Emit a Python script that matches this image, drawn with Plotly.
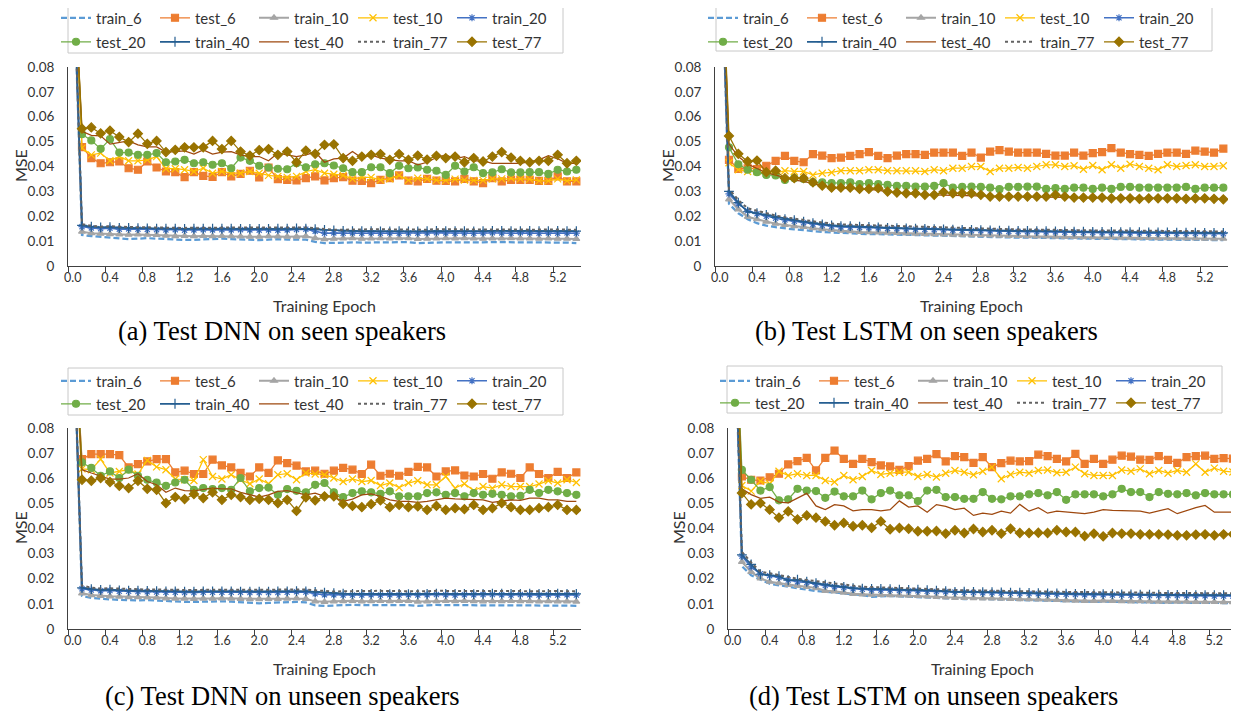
import plotly.graph_objects as go

W, H = 1239, 713      # browser window
BODY = 8              # default page margin around the plot div
FW, FH = W - BODY, H - BODY

epochs = [0.0, 0.1, 0.2, 0.3, 0.4, 0.5, 0.6, 0.7, 0.8, 0.9,
          1.0, 1.1, 1.2, 1.3, 1.4, 1.5, 1.6, 1.7, 1.8, 1.9,
          2.0, 2.1, 2.2, 2.3, 2.4, 2.5, 2.6, 2.7, 2.8, 2.9,
          3.0, 3.1, 3.2, 3.3, 3.4, 3.5, 3.6, 3.7, 3.8, 3.9,
          4.0, 4.1, 4.2, 4.3, 4.4, 4.5, 4.6, 4.7, 4.8, 4.9,
          5.0, 5.1, 5.2, 5.3, 5.4]
tick_vals = [0.0, 0.4, 0.8, 1.2, 1.6, 2.0, 2.4, 2.8, 3.2, 3.6, 4.0, 4.4, 4.8, 5.2]
tick_text = ["0.0", "0.4", "0.8", "1.2", "1.6", "2.0", "2.4", "2.8", "3.2", "3.6",
             "4.0", "4.4", "4.8", "5.2"]
series_names = ["train_6", "test_6", "train_10", "test_10", "train_20",
                "test_20", "train_40", "test_40", "train_77", "test_77"]

# ---------------- (a) DNN, seen speakers ----------------
a_train_6 = [0.13,
 0.0125, 0.0120, 0.0117, 0.0113, 0.0110, 0.0108, 0.0110, 0.0112, 0.0110, 0.0108,
 0.0107, 0.0105, 0.0105, 0.0107, 0.0108, 0.0110, 0.0108, 0.0106, 0.0105, 0.0104,
 0.0106, 0.0108, 0.0106, 0.0105, 0.0106, 0.0097, 0.0092, 0.0093, 0.0095, 0.0095,
 0.0094, 0.0094, 0.0095, 0.0096, 0.0097, 0.0096, 0.0092, 0.0094, 0.0096, 0.0095,
 0.0095, 0.0094, 0.0094, 0.0095, 0.0096, 0.0096, 0.0095, 0.0095, 0.0096, 0.0095,
 0.0094, 0.0094, 0.0094, 0.0092]
a_test_6 = [0.13,
 0.0478, 0.0434, 0.0413, 0.0417, 0.0420, 0.0393, 0.0387, 0.0420, 0.0396, 0.0380,
 0.0377, 0.0357, 0.0377, 0.0362, 0.0358, 0.0377, 0.0360, 0.0370, 0.0383, 0.0356,
 0.0396, 0.0349, 0.0346, 0.0344, 0.0353, 0.0360, 0.0344, 0.0353, 0.0357, 0.0343,
 0.0342, 0.0333, 0.0346, 0.0353, 0.0364, 0.0343, 0.0340, 0.0350, 0.0343, 0.0342,
 0.0340, 0.0350, 0.0340, 0.0333, 0.0353, 0.0340, 0.0346, 0.0346, 0.0346, 0.0342,
 0.0342, 0.0360, 0.0340, 0.0340]
a_train_10 = [0.13,
 0.0138, 0.0132, 0.0130, 0.0128, 0.0127, 0.0126, 0.0127, 0.0126, 0.0125, 0.0122,
 0.0120, 0.0121, 0.0120, 0.0121, 0.0120, 0.0121, 0.0120, 0.0119, 0.0118, 0.0118,
 0.0120, 0.0119, 0.0118, 0.0118, 0.0120, 0.0112, 0.0108, 0.0110, 0.0111, 0.0112,
 0.0110, 0.0111, 0.0112, 0.0111, 0.0112, 0.0112, 0.0109, 0.0110, 0.0111, 0.0112,
 0.0111, 0.0112, 0.0111, 0.0110, 0.0111, 0.0111, 0.0112, 0.0111, 0.0111, 0.0110,
 0.0111, 0.0110, 0.0110, 0.0109]
a_test_10 = [0.13,
 0.0474, 0.0447, 0.0454, 0.0423, 0.0440, 0.0423, 0.0423, 0.0427, 0.0440, 0.0391,
 0.0391, 0.0387, 0.0380, 0.0393, 0.0373, 0.0380, 0.0373, 0.0373, 0.0380, 0.0373,
 0.0364, 0.0360, 0.0356, 0.0360, 0.0380, 0.0387, 0.0373, 0.0369, 0.0364, 0.0350,
 0.0356, 0.0356, 0.0346, 0.0350, 0.0364, 0.0345, 0.0353, 0.0350, 0.0345, 0.0344,
 0.0349, 0.0345, 0.0344, 0.0344, 0.0350, 0.0350, 0.0353, 0.0350, 0.0349, 0.0342,
 0.0342, 0.0350, 0.0342, 0.0346]
a_train_20 = [0.13,
 0.0158, 0.0153, 0.0150, 0.0152, 0.0148, 0.0149, 0.0148, 0.0147, 0.0146, 0.0145,
 0.0146, 0.0144, 0.0145, 0.0146, 0.0145, 0.0146, 0.0145, 0.0146, 0.0145, 0.0144,
 0.0145, 0.0144, 0.0145, 0.0147, 0.0148, 0.0140, 0.0132, 0.0133, 0.0132, 0.0133,
 0.0132, 0.0133, 0.0132, 0.0133, 0.0132, 0.0133, 0.0132, 0.0133, 0.0134, 0.0133,
 0.0132, 0.0133, 0.0132, 0.0133, 0.0134, 0.0133, 0.0132, 0.0134, 0.0133, 0.0132,
 0.0133, 0.0132, 0.0133, 0.0132]
a_test_20 = [0.13,
 0.0530, 0.0505, 0.0471, 0.0510, 0.0456, 0.0456, 0.0447, 0.0447, 0.0454, 0.0417,
 0.0420, 0.0427, 0.0413, 0.0417, 0.0407, 0.0413, 0.0393, 0.0436, 0.0423, 0.0403,
 0.0396, 0.0391, 0.0389, 0.0413, 0.0397, 0.0409, 0.0413, 0.0404, 0.0393, 0.0377,
 0.0377, 0.0397, 0.0397, 0.0373, 0.0403, 0.0393, 0.0396, 0.0387, 0.0383, 0.0366,
 0.0403, 0.0380, 0.0397, 0.0373, 0.0376, 0.0389, 0.0376, 0.0376, 0.0377, 0.0377,
 0.0370, 0.0387, 0.0380, 0.0387]
a_train_40 = [0.13,
 0.0163, 0.0158, 0.0155, 0.0156, 0.0153, 0.0153, 0.0152, 0.0151, 0.0150, 0.0150,
 0.0150, 0.0149, 0.0150, 0.0150, 0.0150, 0.0150, 0.0150, 0.0149, 0.0149, 0.0149,
 0.0149, 0.0150, 0.0150, 0.0151, 0.0150, 0.0148, 0.0145, 0.0143, 0.0141, 0.0140,
 0.0140, 0.0140, 0.0139, 0.0139, 0.0140, 0.0139, 0.0139, 0.0140, 0.0141, 0.0140,
 0.0140, 0.0140, 0.0139, 0.0140, 0.0141, 0.0141, 0.0140, 0.0140, 0.0141, 0.0140,
 0.0140, 0.0141, 0.0140, 0.0140]
a_test_40 = [0.13,
 0.0541, 0.0525, 0.0523, 0.0490, 0.0498, 0.0503, 0.0487, 0.0479, 0.0479, 0.0458,
 0.0460, 0.0463, 0.0450, 0.0467, 0.0450, 0.0458, 0.0460, 0.0447, 0.0440, 0.0440,
 0.0423, 0.0454, 0.0447, 0.0440, 0.0447, 0.0458, 0.0417, 0.0431, 0.0434, 0.0460,
 0.0434, 0.0447, 0.0434, 0.0427, 0.0423, 0.0423, 0.0407, 0.0417, 0.0436, 0.0447,
 0.0431, 0.0440, 0.0423, 0.0423, 0.0413, 0.0413, 0.0413, 0.0413, 0.0420, 0.0427,
 0.0444, 0.0431, 0.0413, 0.0413]
a_train_77 = [0.13,
 0.0168, 0.0162, 0.0158, 0.0160, 0.0157, 0.0157, 0.0156, 0.0155, 0.0155, 0.0154,
 0.0154, 0.0153, 0.0154, 0.0154, 0.0154, 0.0155, 0.0154, 0.0154, 0.0153, 0.0154,
 0.0153, 0.0154, 0.0155, 0.0156, 0.0155, 0.0152, 0.0148, 0.0146, 0.0146, 0.0147,
 0.0146, 0.0147, 0.0148, 0.0147, 0.0146, 0.0147, 0.0146, 0.0146, 0.0148, 0.0147,
 0.0146, 0.0147, 0.0147, 0.0146, 0.0147, 0.0147, 0.0148, 0.0147, 0.0146, 0.0147,
 0.0148, 0.0147, 0.0146, 0.0146]
a_test_77 = [0.13,
 0.0552, 0.0557, 0.0533, 0.0544, 0.0519, 0.0498, 0.0532, 0.0491, 0.0503, 0.0458,
 0.0467, 0.0477, 0.0477, 0.0477, 0.0503, 0.0470, 0.0503, 0.0460, 0.0444, 0.0466,
 0.0470, 0.0447, 0.0460, 0.0417, 0.0464, 0.0451, 0.0487, 0.0489, 0.0434, 0.0423,
 0.0440, 0.0447, 0.0450, 0.0427, 0.0450, 0.0427, 0.0444, 0.0428, 0.0443, 0.0434,
 0.0440, 0.0417, 0.0434, 0.0420, 0.0440, 0.0458, 0.0436, 0.0423, 0.0417, 0.0423,
 0.0423, 0.0447, 0.0413, 0.0423]

# ---------------- (b) LSTM, seen speakers ----------------
b_train_6 = [0.15,
 0.0250, 0.0212, 0.0188, 0.0172, 0.0162, 0.0156, 0.0150, 0.0147, 0.0144, 0.0140,
 0.0137, 0.0135, 0.0133, 0.0132, 0.0129, 0.0128, 0.0128, 0.0127, 0.0125, 0.0124,
 0.0123, 0.0122, 0.0121, 0.0120, 0.0119, 0.0118, 0.0118, 0.0117, 0.0116, 0.0116,
 0.0115, 0.0114, 0.0114, 0.0113, 0.0112, 0.0112, 0.0111, 0.0111, 0.0110, 0.0110,
 0.0109, 0.0109, 0.0108, 0.0108, 0.0107, 0.0107, 0.0106, 0.0106, 0.0106, 0.0105,
 0.0105, 0.0105, 0.0104, 0.0104]
b_test_6 = [0.15,
 0.0427, 0.0390, 0.0393, 0.0390, 0.0403, 0.0423, 0.0443, 0.0423, 0.0417, 0.0450,
 0.0444, 0.0434, 0.0436, 0.0443, 0.0450, 0.0458, 0.0443, 0.0434, 0.0444, 0.0450,
 0.0450, 0.0447, 0.0456, 0.0456, 0.0456, 0.0443, 0.0456, 0.0436, 0.0460, 0.0466,
 0.0460, 0.0456, 0.0456, 0.0456, 0.0451, 0.0444, 0.0444, 0.0456, 0.0444, 0.0454,
 0.0458, 0.0474, 0.0456, 0.0450, 0.0447, 0.0443, 0.0451, 0.0456, 0.0456, 0.0451,
 0.0464, 0.0460, 0.0456, 0.0472]
b_train_10 = [0.15,
 0.0268, 0.0228, 0.0198, 0.0188, 0.0178, 0.0170, 0.0165, 0.0160, 0.0157, 0.0152,
 0.0148, 0.0145, 0.0142, 0.0140, 0.0137, 0.0136, 0.0135, 0.0134, 0.0133, 0.0131,
 0.0130, 0.0129, 0.0128, 0.0127, 0.0126, 0.0125, 0.0124, 0.0124, 0.0123, 0.0122,
 0.0121, 0.0121, 0.0120, 0.0119, 0.0119, 0.0118, 0.0117, 0.0117, 0.0116, 0.0116,
 0.0115, 0.0115, 0.0114, 0.0114, 0.0113, 0.0113, 0.0112, 0.0112, 0.0112, 0.0111,
 0.0111, 0.0110, 0.0110, 0.0110]
b_test_10 = [0.15,
 0.0415, 0.0387, 0.0380, 0.0380, 0.0373, 0.0373, 0.0383, 0.0380, 0.0380, 0.0366,
 0.0373, 0.0376, 0.0383, 0.0383, 0.0383, 0.0387, 0.0387, 0.0383, 0.0383, 0.0383,
 0.0383, 0.0380, 0.0387, 0.0383, 0.0393, 0.0393, 0.0400, 0.0400, 0.0380, 0.0393,
 0.0393, 0.0396, 0.0393, 0.0400, 0.0407, 0.0407, 0.0400, 0.0403, 0.0389, 0.0404,
 0.0387, 0.0407, 0.0393, 0.0409, 0.0400, 0.0393, 0.0387, 0.0407, 0.0400, 0.0404,
 0.0407, 0.0400, 0.0400, 0.0403]
b_train_20 = [0.15,
 0.0290, 0.0250, 0.0222, 0.0210, 0.0200, 0.0192, 0.0185, 0.0180, 0.0174, 0.0168,
 0.0164, 0.0160, 0.0157, 0.0156, 0.0155, 0.0154, 0.0153, 0.0151, 0.0150, 0.0149,
 0.0148, 0.0147, 0.0146, 0.0145, 0.0144, 0.0143, 0.0142, 0.0142, 0.0141, 0.0140,
 0.0139, 0.0139, 0.0138, 0.0138, 0.0137, 0.0137, 0.0136, 0.0136, 0.0135, 0.0135,
 0.0134, 0.0134, 0.0133, 0.0133, 0.0133, 0.0132, 0.0132, 0.0132, 0.0131, 0.0131,
 0.0131, 0.0130, 0.0130, 0.0130]
b_test_20 = [0.15,
 0.0477, 0.0409, 0.0387, 0.0377, 0.0366, 0.0364, 0.0346, 0.0353, 0.0350, 0.0337,
 0.0336, 0.0333, 0.0333, 0.0336, 0.0329, 0.0333, 0.0329, 0.0326, 0.0322, 0.0322,
 0.0319, 0.0319, 0.0322, 0.0333, 0.0315, 0.0318, 0.0319, 0.0318, 0.0315, 0.0309,
 0.0318, 0.0318, 0.0319, 0.0319, 0.0310, 0.0313, 0.0310, 0.0315, 0.0315, 0.0310,
 0.0315, 0.0310, 0.0318, 0.0318, 0.0315, 0.0315, 0.0315, 0.0315, 0.0315, 0.0318,
 0.0310, 0.0315, 0.0315, 0.0315]
b_train_40 = [0.15,
 0.0300, 0.0255, 0.0218, 0.0212, 0.0205, 0.0195, 0.0188, 0.0184, 0.0178, 0.0172,
 0.0167, 0.0163, 0.0160, 0.0160, 0.0158, 0.0157, 0.0155, 0.0153, 0.0152, 0.0151,
 0.0150, 0.0149, 0.0148, 0.0147, 0.0146, 0.0145, 0.0145, 0.0144, 0.0143, 0.0142,
 0.0142, 0.0141, 0.0141, 0.0140, 0.0140, 0.0139, 0.0139, 0.0138, 0.0138, 0.0137,
 0.0137, 0.0137, 0.0136, 0.0136, 0.0136, 0.0135, 0.0135, 0.0135, 0.0134, 0.0134,
 0.0134, 0.0133, 0.0133, 0.0133]
b_test_40 = [0.15,
 0.0490, 0.0440, 0.0410, 0.0392, 0.0375, 0.0365, 0.0355, 0.0345, 0.0340, 0.0330,
 0.0322, 0.0317, 0.0313, 0.0312, 0.0310, 0.0308, 0.0305, 0.0298, 0.0293, 0.0290,
 0.0288, 0.0286, 0.0285, 0.0285, 0.0284, 0.0283, 0.0283, 0.0282, 0.0280, 0.0279,
 0.0278, 0.0278, 0.0278, 0.0277, 0.0277, 0.0278, 0.0276, 0.0275, 0.0275, 0.0274,
 0.0274, 0.0273, 0.0273, 0.0273, 0.0272, 0.0272, 0.0272, 0.0271, 0.0271, 0.0270,
 0.0271, 0.0270, 0.0269, 0.0269]
b_train_77 = [0.15,
 0.0310, 0.0265, 0.0232, 0.0222, 0.0212, 0.0203, 0.0196, 0.0190, 0.0185, 0.0180,
 0.0175, 0.0170, 0.0167, 0.0166, 0.0165, 0.0163, 0.0162, 0.0160, 0.0158, 0.0157,
 0.0156, 0.0155, 0.0154, 0.0153, 0.0152, 0.0151, 0.0150, 0.0150, 0.0149, 0.0148,
 0.0148, 0.0147, 0.0147, 0.0146, 0.0146, 0.0145, 0.0145, 0.0144, 0.0144, 0.0143,
 0.0143, 0.0143, 0.0142, 0.0142, 0.0142, 0.0141, 0.0141, 0.0141, 0.0140, 0.0140,
 0.0140, 0.0140, 0.0139, 0.0139]
b_test_77 = [0.15,
 0.0523, 0.0451, 0.0420, 0.0424, 0.0377, 0.0383, 0.0353, 0.0353, 0.0353, 0.0336,
 0.0323, 0.0315, 0.0315, 0.0315, 0.0310, 0.0310, 0.0313, 0.0299, 0.0295, 0.0292,
 0.0292, 0.0286, 0.0286, 0.0297, 0.0292, 0.0292, 0.0292, 0.0286, 0.0279, 0.0279,
 0.0279, 0.0279, 0.0279, 0.0279, 0.0279, 0.0286, 0.0279, 0.0275, 0.0275, 0.0275,
 0.0275, 0.0272, 0.0272, 0.0272, 0.0270, 0.0272, 0.0272, 0.0272, 0.0272, 0.0270,
 0.0272, 0.0272, 0.0270, 0.0268]

# ---------------- (c) DNN, unseen speakers ----------------
c_train_6 = [0.13,
 0.0132, 0.0124, 0.0120, 0.0118, 0.0116, 0.0114, 0.0114, 0.0115, 0.0113, 0.0110,
 0.0109, 0.0108, 0.0108, 0.0109, 0.0110, 0.0110, 0.0109, 0.0107, 0.0105, 0.0102,
 0.0104, 0.0106, 0.0107, 0.0108, 0.0106, 0.0094, 0.0092, 0.0094, 0.0095, 0.0096,
 0.0095, 0.0095, 0.0096, 0.0097, 0.0096, 0.0095, 0.0092, 0.0094, 0.0096, 0.0095,
 0.0095, 0.0095, 0.0094, 0.0095, 0.0096, 0.0096, 0.0095, 0.0095, 0.0096, 0.0095,
 0.0094, 0.0094, 0.0093, 0.0092]
c_test_6 = [0.13,
 0.0676, 0.0696, 0.0696, 0.0696, 0.0692, 0.0643, 0.0656, 0.0667, 0.0676, 0.0676,
 0.0623, 0.0630, 0.0617, 0.0617, 0.0674, 0.0651, 0.0643, 0.0621, 0.0607, 0.0643,
 0.0621, 0.0671, 0.0660, 0.0650, 0.0627, 0.0630, 0.0618, 0.0630, 0.0641, 0.0634,
 0.0617, 0.0654, 0.0610, 0.0618, 0.0610, 0.0625, 0.0645, 0.0643, 0.0607, 0.0627,
 0.0631, 0.0611, 0.0607, 0.0617, 0.0598, 0.0623, 0.0618, 0.0601, 0.0643, 0.0617,
 0.0601, 0.0625, 0.0601, 0.0623]
c_train_10 = [0.13,
 0.0142, 0.0135, 0.0132, 0.0130, 0.0129, 0.0127, 0.0127, 0.0126, 0.0125, 0.0122,
 0.0121, 0.0121, 0.0120, 0.0121, 0.0121, 0.0122, 0.0121, 0.0120, 0.0119, 0.0119,
 0.0120, 0.0120, 0.0121, 0.0122, 0.0120, 0.0110, 0.0108, 0.0110, 0.0111, 0.0112,
 0.0110, 0.0111, 0.0112, 0.0111, 0.0112, 0.0112, 0.0109, 0.0110, 0.0111, 0.0112,
 0.0111, 0.0112, 0.0111, 0.0110, 0.0111, 0.0111, 0.0112, 0.0111, 0.0111, 0.0110,
 0.0111, 0.0110, 0.0110, 0.0109]
c_test_10 = [0.13,
 0.0637, 0.0634, 0.0676, 0.0621, 0.0627, 0.0634, 0.0617, 0.0671, 0.0645, 0.0634,
 0.0597, 0.0594, 0.0591, 0.0674, 0.0607, 0.0597, 0.0614, 0.0594, 0.0578, 0.0597,
 0.0578, 0.0614, 0.0618, 0.0594, 0.0621, 0.0617, 0.0614, 0.0601, 0.0587, 0.0597,
 0.0587, 0.0591, 0.0571, 0.0581, 0.0563, 0.0581, 0.0590, 0.0574, 0.0574, 0.0607,
 0.0561, 0.0578, 0.0551, 0.0567, 0.0561, 0.0574, 0.0567, 0.0567, 0.0567, 0.0577,
 0.0590, 0.0581, 0.0594, 0.0583]
c_train_20 = [0.13,
 0.0160, 0.0155, 0.0152, 0.0153, 0.0150, 0.0150, 0.0149, 0.0148, 0.0147, 0.0146,
 0.0146, 0.0145, 0.0145, 0.0146, 0.0146, 0.0146, 0.0146, 0.0146, 0.0145, 0.0145,
 0.0145, 0.0145, 0.0146, 0.0148, 0.0147, 0.0140, 0.0136, 0.0136, 0.0135, 0.0135,
 0.0135, 0.0136, 0.0135, 0.0136, 0.0135, 0.0136, 0.0135, 0.0136, 0.0137, 0.0136,
 0.0135, 0.0136, 0.0136, 0.0137, 0.0137, 0.0136, 0.0135, 0.0137, 0.0136, 0.0135,
 0.0136, 0.0135, 0.0136, 0.0135]
c_test_20 = [0.13,
 0.0663, 0.0641, 0.0610, 0.0627, 0.0601, 0.0634, 0.0610, 0.0594, 0.0583, 0.0570,
 0.0583, 0.0594, 0.0554, 0.0561, 0.0557, 0.0561, 0.0554, 0.0601, 0.0548, 0.0561,
 0.0563, 0.0534, 0.0557, 0.0550, 0.0544, 0.0574, 0.0581, 0.0544, 0.0525, 0.0541,
 0.0548, 0.0544, 0.0538, 0.0548, 0.0528, 0.0528, 0.0528, 0.0541, 0.0544, 0.0534,
 0.0541, 0.0528, 0.0541, 0.0534, 0.0538, 0.0534, 0.0528, 0.0530, 0.0554, 0.0541,
 0.0554, 0.0548, 0.0541, 0.0534]
c_train_40 = [0.13,
 0.0164, 0.0159, 0.0156, 0.0157, 0.0154, 0.0153, 0.0153, 0.0152, 0.0151, 0.0150,
 0.0150, 0.0149, 0.0149, 0.0150, 0.0150, 0.0150, 0.0150, 0.0149, 0.0149, 0.0149,
 0.0149, 0.0150, 0.0150, 0.0151, 0.0150, 0.0148, 0.0145, 0.0143, 0.0141, 0.0140,
 0.0140, 0.0140, 0.0139, 0.0139, 0.0140, 0.0139, 0.0139, 0.0140, 0.0141, 0.0140,
 0.0140, 0.0140, 0.0139, 0.0140, 0.0141, 0.0141, 0.0140, 0.0140, 0.0141, 0.0140,
 0.0140, 0.0141, 0.0140, 0.0140]
c_test_40 = [0.13,
 0.0634, 0.0621, 0.0610, 0.0597, 0.0597, 0.0601, 0.0618, 0.0587, 0.0574, 0.0544,
 0.0561, 0.0551, 0.0550, 0.0557, 0.0561, 0.0558, 0.0558, 0.0544, 0.0534, 0.0525,
 0.0534, 0.0548, 0.0551, 0.0544, 0.0534, 0.0541, 0.0528, 0.0525, 0.0508, 0.0517,
 0.0534, 0.0538, 0.0528, 0.0514, 0.0508, 0.0508, 0.0504, 0.0508, 0.0514, 0.0521,
 0.0518, 0.0517, 0.0514, 0.0514, 0.0504, 0.0508, 0.0514, 0.0512, 0.0521, 0.0521,
 0.0514, 0.0514, 0.0508, 0.0508]
c_train_77 = [0.13,
 0.0172, 0.0165, 0.0161, 0.0162, 0.0160, 0.0159, 0.0158, 0.0157, 0.0157, 0.0156,
 0.0156, 0.0155, 0.0155, 0.0156, 0.0156, 0.0156, 0.0156, 0.0155, 0.0155, 0.0155,
 0.0155, 0.0156, 0.0156, 0.0157, 0.0157, 0.0154, 0.0150, 0.0149, 0.0150, 0.0151,
 0.0150, 0.0151, 0.0152, 0.0151, 0.0150, 0.0151, 0.0150, 0.0150, 0.0152, 0.0151,
 0.0150, 0.0151, 0.0151, 0.0150, 0.0151, 0.0151, 0.0152, 0.0151, 0.0150, 0.0151,
 0.0152, 0.0151, 0.0150, 0.0150]
c_test_77 = [0.13,
 0.0594, 0.0590, 0.0601, 0.0585, 0.0570, 0.0561, 0.0590, 0.0558, 0.0554, 0.0501,
 0.0525, 0.0517, 0.0537, 0.0521, 0.0544, 0.0514, 0.0534, 0.0525, 0.0514, 0.0518,
 0.0514, 0.0501, 0.0514, 0.0470, 0.0524, 0.0512, 0.0528, 0.0528, 0.0498, 0.0490,
 0.0485, 0.0497, 0.0512, 0.0485, 0.0494, 0.0485, 0.0488, 0.0474, 0.0490, 0.0474,
 0.0481, 0.0477, 0.0494, 0.0474, 0.0481, 0.0501, 0.0485, 0.0474, 0.0474, 0.0481,
 0.0485, 0.0494, 0.0474, 0.0474]

# ---------------- (d) LSTM, unseen speakers ----------------
d_train_6 = [0.15,
 0.0250, 0.0214, 0.0197, 0.0180, 0.0174, 0.0168, 0.0161, 0.0155, 0.0151, 0.0148,
 0.0145, 0.0142, 0.0139, 0.0135, 0.0128, 0.0130, 0.0131, 0.0130, 0.0129, 0.0128,
 0.0126, 0.0124, 0.0122, 0.0119, 0.0119, 0.0120, 0.0119, 0.0118, 0.0117, 0.0116,
 0.0116, 0.0115, 0.0114, 0.0113, 0.0112, 0.0110, 0.0109, 0.0108, 0.0108, 0.0109,
 0.0108, 0.0107, 0.0106, 0.0107, 0.0106, 0.0105, 0.0104, 0.0105, 0.0105, 0.0104,
 0.0104, 0.0103, 0.0103, 0.0103]
d_test_6 = [0.15,
 0.0607, 0.0594, 0.0591, 0.0604, 0.0618, 0.0655, 0.0668, 0.0681, 0.0631, 0.0681,
 0.0710, 0.0677, 0.0657, 0.0677, 0.0664, 0.0651, 0.0647, 0.0633, 0.0648, 0.0670,
 0.0677, 0.0696, 0.0667, 0.0688, 0.0684, 0.0661, 0.0684, 0.0644, 0.0660, 0.0670,
 0.0667, 0.0668, 0.0694, 0.0688, 0.0677, 0.0667, 0.0697, 0.0657, 0.0677, 0.0657,
 0.0674, 0.0690, 0.0686, 0.0674, 0.0673, 0.0688, 0.0673, 0.0661, 0.0684, 0.0688,
 0.0690, 0.0677, 0.0680, 0.0678]
d_train_10 = [0.15,
 0.0267, 0.0227, 0.0201, 0.0188, 0.0182, 0.0176, 0.0172, 0.0168, 0.0163, 0.0152,
 0.0150, 0.0145, 0.0140, 0.0138, 0.0137, 0.0136, 0.0135, 0.0134, 0.0133, 0.0132,
 0.0130, 0.0128, 0.0126, 0.0124, 0.0124, 0.0123, 0.0122, 0.0122, 0.0121, 0.0120,
 0.0119, 0.0119, 0.0118, 0.0117, 0.0116, 0.0114, 0.0113, 0.0112, 0.0112, 0.0113,
 0.0112, 0.0111, 0.0110, 0.0111, 0.0110, 0.0109, 0.0109, 0.0109, 0.0109, 0.0108,
 0.0108, 0.0108, 0.0107, 0.0107]
d_test_10 = [0.15,
 0.0571, 0.0549, 0.0588, 0.0578, 0.0628, 0.0611, 0.0618, 0.0611, 0.0611, 0.0591,
 0.0585, 0.0611, 0.0594, 0.0607, 0.0631, 0.0615, 0.0620, 0.0624, 0.0624, 0.0607,
 0.0615, 0.0605, 0.0620, 0.0631, 0.0624, 0.0614, 0.0628, 0.0644, 0.0598, 0.0615,
 0.0624, 0.0620, 0.0631, 0.0633, 0.0622, 0.0624, 0.0644, 0.0618, 0.0611, 0.0611,
 0.0611, 0.0633, 0.0628, 0.0637, 0.0618, 0.0631, 0.0620, 0.0631, 0.0624, 0.0657,
 0.0624, 0.0640, 0.0628, 0.0625]
d_train_20 = [0.15,
 0.0290, 0.0247, 0.0220, 0.0212, 0.0205, 0.0195, 0.0188, 0.0185, 0.0178, 0.0173,
 0.0168, 0.0165, 0.0160, 0.0158, 0.0155, 0.0155, 0.0155, 0.0153, 0.0152, 0.0152,
 0.0150, 0.0149, 0.0148, 0.0147, 0.0146, 0.0145, 0.0144, 0.0144, 0.0143, 0.0142,
 0.0141, 0.0141, 0.0140, 0.0139, 0.0139, 0.0138, 0.0137, 0.0136, 0.0136, 0.0136,
 0.0135, 0.0135, 0.0134, 0.0134, 0.0133, 0.0133, 0.0133, 0.0133, 0.0132, 0.0132,
 0.0132, 0.0131, 0.0131, 0.0131]
d_test_20 = [0.15,
 0.0633, 0.0594, 0.0551, 0.0565, 0.0512, 0.0516, 0.0558, 0.0551, 0.0549, 0.0522,
 0.0547, 0.0528, 0.0528, 0.0551, 0.0516, 0.0541, 0.0551, 0.0532, 0.0532, 0.0509,
 0.0551, 0.0554, 0.0525, 0.0525, 0.0518, 0.0518, 0.0545, 0.0518, 0.0516, 0.0528,
 0.0528, 0.0536, 0.0541, 0.0532, 0.0545, 0.0514, 0.0536, 0.0536, 0.0536, 0.0528,
 0.0536, 0.0558, 0.0545, 0.0545, 0.0525, 0.0545, 0.0538, 0.0536, 0.0541, 0.0532,
 0.0541, 0.0536, 0.0536, 0.0536]
d_train_40 = [0.15,
 0.0295, 0.0257, 0.0218, 0.0214, 0.0210, 0.0194, 0.0196, 0.0188, 0.0182, 0.0177,
 0.0172, 0.0168, 0.0163, 0.0161, 0.0160, 0.0160, 0.0159, 0.0157, 0.0156, 0.0157,
 0.0155, 0.0153, 0.0151, 0.0148, 0.0149, 0.0148, 0.0147, 0.0147, 0.0146, 0.0145,
 0.0145, 0.0144, 0.0143, 0.0142, 0.0142, 0.0141, 0.0140, 0.0140, 0.0139, 0.0139,
 0.0139, 0.0138, 0.0138, 0.0137, 0.0137, 0.0137, 0.0136, 0.0136, 0.0136, 0.0135,
 0.0135, 0.0135, 0.0135, 0.0135]
d_test_40 = [0.15,
 0.0558, 0.0535, 0.0520, 0.0525, 0.0505, 0.0502, 0.0520, 0.0540, 0.0490, 0.0475,
 0.0495, 0.0490, 0.0470, 0.0475, 0.0475, 0.0470, 0.0475, 0.0510, 0.0485, 0.0490,
 0.0465, 0.0495, 0.0488, 0.0475, 0.0481, 0.0452, 0.0461, 0.0456, 0.0469, 0.0461,
 0.0496, 0.0469, 0.0483, 0.0461, 0.0469, 0.0465, 0.0461, 0.0459, 0.0465, 0.0475,
 0.0472, 0.0472, 0.0469, 0.0469, 0.0461, 0.0469, 0.0479, 0.0459, 0.0472, 0.0483,
 0.0492, 0.0465, 0.0465, 0.0465]
d_train_77 = [0.15,
 0.0307, 0.0265, 0.0228, 0.0222, 0.0215, 0.0205, 0.0200, 0.0195, 0.0190, 0.0185,
 0.0180, 0.0175, 0.0170, 0.0168, 0.0167, 0.0166, 0.0165, 0.0164, 0.0162, 0.0161,
 0.0160, 0.0158, 0.0157, 0.0155, 0.0155, 0.0154, 0.0153, 0.0153, 0.0152, 0.0151,
 0.0151, 0.0150, 0.0149, 0.0149, 0.0148, 0.0148, 0.0147, 0.0147, 0.0146, 0.0146,
 0.0146, 0.0145, 0.0145, 0.0145, 0.0144, 0.0144, 0.0144, 0.0144, 0.0143, 0.0143,
 0.0143, 0.0143, 0.0142, 0.0142]
d_test_77 = [0.15,
 0.0541, 0.0496, 0.0501, 0.0475, 0.0443, 0.0468, 0.0436, 0.0452, 0.0443, 0.0428,
 0.0413, 0.0422, 0.0409, 0.0413, 0.0403, 0.0428, 0.0397, 0.0402, 0.0399, 0.0389,
 0.0389, 0.0390, 0.0380, 0.0393, 0.0382, 0.0398, 0.0386, 0.0393, 0.0380, 0.0399,
 0.0382, 0.0382, 0.0383, 0.0382, 0.0393, 0.0386, 0.0386, 0.0370, 0.0380, 0.0369,
 0.0382, 0.0380, 0.0380, 0.0377, 0.0377, 0.0377, 0.0376, 0.0373, 0.0373, 0.0376,
 0.0377, 0.0373, 0.0377, 0.0377]

panel_a = [a_train_6, a_test_6, a_train_10, a_test_10, a_train_20,
           a_test_20, a_train_40, a_test_40, a_train_77, a_test_77]
panel_b = [b_train_6, b_test_6, b_train_10, b_test_10, b_train_20,
           b_test_20, b_train_40, b_test_40, b_train_77, b_test_77]
panel_c = [c_train_6, c_test_6, c_train_10, c_test_10, c_train_20,
           c_test_20, c_train_40, c_test_40, c_train_77, c_test_77]
panel_d = [d_train_6, d_test_6, d_train_10, d_test_10, d_train_20,
           d_test_20, d_train_40, d_test_40, d_train_77, d_test_77]

captions = ["(a) Test DNN on seen speakers", "(b) Test LSTM on seen speakers",
            "(c) Test DNN on unseen speakers", "(d) Test LSTM on unseen speakers"]

# ---------------- styles ----------------
STY = {
    "train_6":  dict(color="#5B9BD5", width=2.25, dash="6px,3px", symbol=None, size=0),
    "test_6":   dict(color="#ED7D31", width=1.25, dash="solid", symbol="square", size=7),
    "train_10": dict(color="#A5A5A5", width=2.0, dash="solid", symbol="triangle-up", size=6),
    "test_10":  dict(color="#FFC000", width=1.25, dash="solid", symbol="x-thin", size=7),
    "train_20": dict(color="#4472C4", width=1.5, dash="solid", symbol="asterisk", size=6),
    "test_20":  dict(color="#70AD47", width=1.25, dash="solid", symbol="circle", size=7),
    "train_40": dict(color="#255E91", width=1.75, dash="solid", symbol="cross-thin", size=7),
    "test_40":  dict(color="#9E480E", width=1.25, dash="solid", symbol=None, size=0),
    "train_77": dict(color="#636363", width=2.0, dash="dot", symbol=None, size=0),
    "test_77":  dict(color="#997300", width=1.25, dash="solid", symbol="diamond", size=7),
}

# window-pixel -> paper conversion (plot div sits 8px from the window's corner)
def px_x(x):
    return (x - BODY) / FW

def px_y(y):
    return 1 - (y - BODY) / FH

# panel geometry in window pixels: (left, right, top, bottom)
geo = [(68, 581, 67, 266), (715, 1228, 67, 266), (68, 581, 428, 629), (728, 1237.5, 428, 629)]
legend_left = [56, 703, 56, 715]
legend_rows = [(18, 42), (18, 42), (381, 404), (381, 403)]
legend_box = [(68, 6, 563, 53), (716, 4, 1212, 51), (68, 368, 563, 415), (727, 366, 1222, 413)]
mse_pos = [(20, 166), (667, 166), (20, 528), (678, 528)]
epoch_pos = [(324.5, 306), (971.5, 306), (324.5, 668), (982.5, 668)]
caption_pos = [(282, 331), (926, 331), (282, 696), (934, 696)]

AX = "#404040"
TXT = "#333333"
FONT = "Lato"

fig = go.Figure()
panels = [panel_a, panel_b, panel_c, panel_d]
layout = dict(width=FW, height=FH, margin=dict(l=0, r=0, t=0, b=0, autoexpand=False),
              paper_bgcolor="white", plot_bgcolor="white", showlegend=True,
              shapes=[], annotations=[])

for p, data in enumerate(panels):
    k = p + 1
    xa = "x" if k == 1 else f"x{k}"
    ya = "y" if k == 1 else f"y{k}"
    leg1 = "legend" if k == 1 else f"legend{2 * k - 1}"
    leg2 = f"legend{2 * k}"
    for j, (name, vals) in enumerate(zip(series_names, data)):
        assert len(vals) == len(epochs), (name, p, len(vals))
        s = STY[name]
        mode = "lines+markers" if s["symbol"] else "lines"
        marker = None
        if s["symbol"]:
            marker = dict(symbol=s["symbol"], size=s["size"], color=s["color"],
                          line=dict(color=s["color"], width=1.2))
        fig.add_trace(go.Scatter(
            x=epochs, y=vals, name=name, mode=mode, xaxis=xa, yaxis=ya,
            legend=leg1 if j < 5 else leg2,
            line=dict(color=s["color"], width=s["width"], dash=s["dash"]),
            marker=marker, hoverinfo="skip"))
    l, r, t, b = geo[p]
    xkey = "xaxis" if k == 1 else f"xaxis{k}"
    ykey = "yaxis" if k == 1 else f"yaxis{k}"
    layout[xkey] = dict(domain=[px_x(l), min(1.0, px_x(r))], anchor=ya, range=[-0.05, 5.45],
                        tickmode="array", tickvals=tick_vals, ticktext=tick_text,
                        ticks="", showgrid=False, zeroline=False, showline=True,
                        linecolor=AX, linewidth=1, automargin=False,
                        tickfont=dict(family=FONT, size=12.5, color=TXT),
                        minor=dict(tickmode="array", tickvals=[v - 0.05 for v in tick_vals],
                                   ticks="outside", ticklen=5, tickcolor=AX, showgrid=False))
    layout[ykey] = dict(domain=[px_y(b), px_y(t)], anchor=xa, range=[0, 0.08],
                        tickmode="linear", tick0=0, dtick=0.01, ticks="",
                        showgrid=False, zeroline=False, showline=True, automargin=False,
                        linecolor=AX, linewidth=1, ticklabelstandoff=10,
                        tickfont=dict(family=FONT, size=13.5, color=TXT))
    for lk, ry in zip([leg1, leg2], legend_rows[p]):
        layout[lk] = dict(orientation="h", x=px_x(legend_left[p]), y=px_y(ry),
                          xanchor="left", yanchor="middle", bgcolor="rgba(0,0,0,0)",
                          borderwidth=0, itemwidth=30, entrywidth=54, entrywidthmode="pixels",
                          font=dict(family=FONT, size=15, color=TXT), tracegroupgap=0)
    x0, y0, x1, y1 = legend_box[p]
    layout["shapes"].append(dict(type="rect", xref="paper", yref="paper",
                                 x0=px_x(x0), x1=px_x(x1), y0=px_y(y1), y1=px_y(y0),
                                 line=dict(color="#C8C8C8", width=1), layer="below"))
    mx, my = mse_pos[p]
    layout["annotations"].append(dict(text="MSE", x=px_x(mx), y=px_y(my), xref="paper",
                                      yref="paper", showarrow=False, textangle=-90,
                                      xanchor="center", yanchor="middle",
                                      font=dict(family=FONT, size=16, color=TXT)))
    ex, ey = epoch_pos[p]
    layout["annotations"].append(dict(text="Training Epoch", x=px_x(ex), y=px_y(ey),
                                      xref="paper", yref="paper", showarrow=False,
                                      xanchor="center", yanchor="middle",
                                      font=dict(family=FONT, size=16, color=TXT)))
    cx, cy = caption_pos[p]
    layout["annotations"].append(dict(text=captions[p], x=px_x(cx), y=px_y(cy),
                                      xref="paper", yref="paper", showarrow=False,
                                      xanchor="center", yanchor="middle",
                                      font=dict(family="Liberation Serif", size=26.5, color="black")))

fig.update_layout(**layout)
fig.write_html("out.html")
